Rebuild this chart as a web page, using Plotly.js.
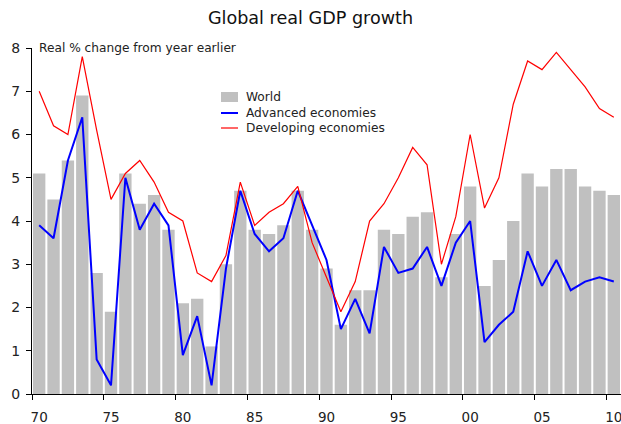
<!DOCTYPE html>
<html>
<head>
<meta charset="utf-8">
<script src="https://cdn.plot.ly/plotly-3.0.1.min.js"></script>
<style>html,body{margin:0;padding:0;background:#fff;}#chart{width:621px;height:424px;}</style>
</head>
<body>
<div id="chart"></div>
<script>
var years = [];
for (var y = 1970; y <= 2010; y++) years.push(y);

var world = [5.1,4.5,5.4,6.9,2.8,1.9,5.1,4.4,4.6,3.8,
             2.1,2.2,1.1,3.0,4.7,3.8,3.7,3.9,4.7,3.8,
             2.9,1.6,2.4,2.4,3.8,3.7,4.1,4.2,2.7,3.7,
             4.8,2.5,3.1,4.0,5.1,4.8,5.2,5.2,4.8,4.7,4.6];

var advanced = [3.9,3.6,5.4,6.4,0.8,0.2,5.0,3.8,4.4,3.9,
                0.9,1.8,0.2,2.9,4.7,3.7,3.3,3.6,4.7,3.9,
                3.1,1.5,2.2,1.4,3.4,2.8,2.9,3.4,2.5,3.5,
                4.0,1.2,1.6,1.9,3.3,2.5,3.1,2.4,2.6,2.7,2.6];

var developing = [7.0,6.2,6.0,7.8,6.1,4.5,5.1,5.4,4.9,4.2,
                  4.0,2.8,2.6,3.2,4.9,3.9,4.2,4.4,4.8,3.5,
                  2.7,1.9,2.6,4.0,4.4,5.0,5.7,5.3,3.0,4.1,
                  6.0,4.3,5.0,6.7,7.7,7.5,7.9,7.5,7.1,6.6,6.4];

var tickPositions = [1969.5,1974.5,1979.5,1984.5,1989.5,1994.5,1999.5,2004.5,2009.5];
var labelPositions = [1970,1975,1980,1985,1990,1995,2000,2005,2010];
var tickLabels = ['70','75','80','85','90','95','00','05','10'];

var seriesNames = ['World','Advanced economies','Developing economies'];
var seriesColors = ['#c0c0c0','#0000ff','#ff0000'];

var font = 'DejaVu Sans, Verdana, sans-serif';

var traces = [
  {type:'bar', x:years, y:world, name:seriesNames[0],
   marker:{color:seriesColors[0], line:{width:0}}},
  {type:'scatter', mode:'lines', x:years, y:advanced, name:seriesNames[1],
   line:{color:seriesColors[1], width:2}},
  {type:'scatter', mode:'lines', x:years, y:developing, name:seriesNames[2],
   line:{color:seriesColors[2], width:1.2}},
  // invisible trace carrying the label axis
  {type:'scatter', mode:'none', x:[1970], y:[0], xaxis:'x2', yaxis:'y', showlegend:false, hoverinfo:'skip'}
];

// custom legend (paper coords computed from plot area: x0=32, width=589; y0=394, height=346)
function px(x){ return (x-32)/589; }
function py(y){ return (394-y)/346; }

var shapes = [
  {type:'rect', xref:'paper', yref:'paper', x0:px(221), x1:px(238), y0:py(102), y1:py(92),
   fillcolor:seriesColors[0], line:{width:0}},
  {type:'line', xref:'paper', yref:'paper', x0:px(221), x1:px(238), y0:py(113), y1:py(113),
   line:{color:seriesColors[1], width:2}},
  {type:'line', xref:'paper', yref:'paper', x0:px(221), x1:px(238), y0:py(128), y1:py(128),
   line:{color:seriesColors[2], width:1.2}}
];

var legendY = [97, 113, 128];
var annotations = [{text:'Real % change from year earlier', xref:'paper', yref:'paper',
                x:0.008, y:1, xanchor:'left', yanchor:'middle', showarrow:false,
                font:{family:font, size:12.2, color:'#222'}}];
for (var i = 0; i < seriesNames.length; i++) {
  annotations.push({text:seriesNames[i], xref:'paper', yref:'paper', x:px(244), y:py(legendY[i]),
    xanchor:'left', yanchor:'middle', showarrow:false, font:{family:font, size:12.2, color:'#222'}});
}

var layout = {
  width:621, height:424,
  margin:{l:32, r:0, t:48, b:30, pad:0},
  paper_bgcolor:'#fff', plot_bgcolor:'#fff',
  font:{family:font, color:'#222', size:13},
  bargap:0.14,
  showlegend:false,
  title:{text:'Global real GDP growth', font:{family:font, size:17.6, color:'#111'},
         x:0.5, xanchor:'center', xref:'container', y:1-18/424, yref:'container', yanchor:'middle'},
  xaxis:{range:[1969.5, 2010.5], tickmode:'array', tickvals:tickPositions, showticklabels:false,
         ticks:'outside', ticklen:5, tickcolor:'#000', showline:true, linecolor:'#000', linewidth:1,
         showgrid:false, zeroline:false},
  xaxis2:{range:[1969.5, 2010.5], overlaying:'x', anchor:'y', side:'bottom', tickmode:'array',
         tickvals:labelPositions, ticktext:tickLabels, ticks:'', ticklen:5, showline:false,
         showgrid:false, zeroline:false, ticklabeloverflow:'allow', ticklabelshift:-1.5,
         ticklabelstandoff:13, automargin:false, tickfont:{size:13.5, color:'#222'}},
  yaxis:{range:[0,8], dtick:1, tick0:0, ticks:'outside', ticklen:5, tickcolor:'#000',
         showline:true, linecolor:'#000', linewidth:1, showgrid:false, zeroline:false,
         ticklabelstandoff:3, automargin:false, tickfont:{size:14, color:'#222'}},
  shapes:shapes,
  annotations:annotations
};

Plotly.newPlot('chart', traces, layout, {displayModeBar:false, staticPlot:true});
</script>
</body>
</html>
